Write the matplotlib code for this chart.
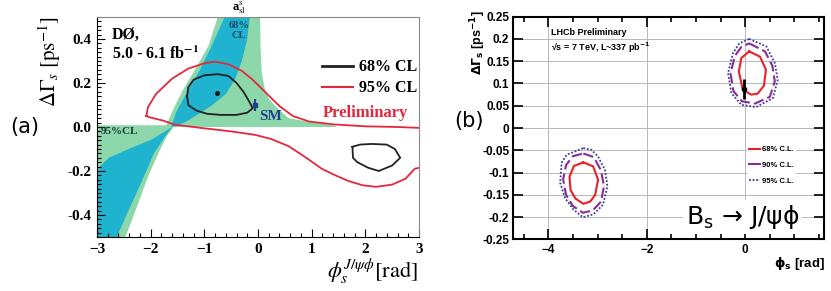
import matplotlib
matplotlib.use('Agg')
import matplotlib.pyplot as plt
from matplotlib.ticker import MultipleLocator, FixedLocator
from matplotlib.lines import Line2D

plt.rcParams['mathtext.fontset'] = 'stix'

# ---------------- panel (a) : D0 ----------------
# a_sl band, 95% (green) and 68% (cyan)
green_up_x = [-1.72, -1.6, -1.42, -1.17, -0.92, -0.75, 0.04, 0.05, 0.07, 0.12, 0.2, 0.35, 0.57, 0.8, 1.2, 1.45, 1.45, -1.72]
green_up_y = [0.0, 0.069, 0.159, 0.262, 0.37, 0.5, 0.5, 0.35, 0.25, 0.18, 0.13, 0.088, 0.04, 0.03, 0.015, 0.006, 0.0, 0.0]
green_lo_x = [-3.0, -1.6, -1.57, -1.7, -1.85, -2.04, -2.22, -2.36, -2.47, -3.0]
green_lo_y = [0.008, 0.008, 0.0, -0.042, -0.117, -0.22, -0.34, -0.43, -0.5, -0.5]
cyan_up_x = [-1.62, -1.52, -1.32, -1.08, -0.86, -0.62, -0.15, -0.2, -0.3, -0.42, -0.6, -0.85, -1.1, -1.3, -1.5]
cyan_up_y = [0.0, 0.07, 0.16, 0.26, 0.37, 0.5, 0.5, 0.4, 0.3, 0.22, 0.15, 0.1, 0.06, 0.03, 0.005]
cyan_lo_x = [-1.6, -1.75, -1.94, -2.1, -2.3, -2.45, -2.63, -3.0, -3.0, -2.95, -2.78, -2.41, -1.98]
cyan_lo_y = [0.0, -0.05, -0.12, -0.21, -0.32, -0.4, -0.5, -0.5, -0.22, -0.18, -0.14, -0.1, -0.057]

# 95% CL contour (red)
red95_x = [-2.08, -2.05, -1.9, -1.6, -1.3, -1.0, -0.8, -0.55, -0.3, -0.1, 0.15, 0.4, 0.65, 0.95, 1.4, 2.0, 2.6, 3.1,
           3.1, 2.92, 2.75, 2.5, 2.2, 1.95, 1.68, 1.4, 1.19, 0.9, 0.57, 0.25, -0.05, -0.5, -1.0, -1.54, -1.78, -2.0, -2.08]
red95_y = [0.05, 0.09, 0.15, 0.22, 0.265, 0.29, 0.297, 0.285, 0.255, 0.215, 0.155, 0.095, 0.05, 0.025, 0.012, 0.003, 0.0, -0.005,
           -0.18, -0.19, -0.235, -0.262, -0.272, -0.265, -0.245, -0.215, -0.19, -0.14, -0.087, -0.055, -0.036, -0.02, -0.006, 0.01, 0.03, 0.043, 0.05]
# 68% CL contours (black)
blk68a_x = [-1.32, -1.3, -1.2, -1.0, -0.75, -0.55, -0.4, -0.27, -0.15, -0.1, -0.2, -0.4, -0.7, -0.95, -1.15, -1.3, -1.32]
blk68a_y = [0.14, 0.18, 0.215, 0.235, 0.24, 0.232, 0.2, 0.16, 0.11, 0.085, 0.065, 0.055, 0.055, 0.06, 0.075, 0.1, 0.14]
blk68b_x = [1.76, 1.9, 2.12, 2.4, 2.55, 2.65, 2.5, 2.25, 2.05, 1.85, 1.77, 1.76]
blk68b_y = [-0.09, -0.08, -0.077, -0.08, -0.1, -0.14, -0.175, -0.2, -0.185, -0.16, -0.14, -0.09]
best_a = (-0.77, 0.153)
sm_a = (-0.05, 0.1, 0.027)

# ---------------- panel (b) : LHCb ----------------
up68_x = [0.08, 0.3, 0.42, 0.38, 0.25, 0.12, -0.05, -0.13, -0.08, 0.08]
up68_y = [0.172, 0.16, 0.131, 0.095, 0.077, 0.075, 0.086, 0.127, 0.157, 0.172]
up90_x = [0.08, 0.4, 0.55, 0.6, 0.5, 0.2, -0.07, -0.24, -0.3, -0.21, -0.08, 0.08]
up90_y = [0.19, 0.172, 0.14, 0.105, 0.07, 0.055, 0.06, 0.083, 0.123, 0.162, 0.182, 0.19]
up95_x = [0.08, 0.43, 0.6, 0.66, 0.56, 0.22, -0.08, -0.28, -0.35, -0.25, -0.12, 0.08]
up95_y = [0.2, 0.183, 0.146, 0.108, 0.067, 0.047, 0.052, 0.078, 0.123, 0.168, 0.19, 0.2]
lo68_x = [-3.29, -3.09, -2.99, -3.05, -3.15, -3.29, -3.45, -3.55, -3.57, -3.48, -3.29]
lo68_y = [-0.077, -0.086, -0.116, -0.15, -0.165, -0.17, -0.158, -0.139, -0.109, -0.085, -0.077]
lo90_x = [-3.29, -3.08, -2.93, -2.87, -2.93, -3.1, -3.3, -3.5, -3.64, -3.7, -3.64, -3.5, -3.29]
lo90_y = [-0.057, -0.065, -0.095, -0.131, -0.165, -0.185, -0.19, -0.175, -0.15, -0.115, -0.083, -0.063, -0.057]
lo95_x = [-3.29, -3.12, -2.99, -2.85, -2.8, -2.89, -3.09, -3.3, -3.49, -3.66, -3.76, -3.73, -3.63, -3.29]
lo95_y = [-0.045, -0.049, -0.064, -0.094, -0.131, -0.172, -0.194, -0.2, -0.183, -0.157, -0.123, -0.078, -0.06, -0.045]
sm_b = (-0.02, 0.088, 0.022)

GREEN = '#8dd8aa'
CYAN = '#1fb3cf'
RED = '#e3283c'
NAVY = '#1f3f8f'
SERIF = 'Liberation Serif'
SANS = 'Liberation Sans'

fig = plt.figure(figsize=(8.31, 2.91), dpi=100)
axa = fig.add_axes([0.1167, 0.1856, 0.3875, 0.756])
axb = fig.add_axes([0.6177, 0.177, 0.3739, 0.766])

# ---- draw panel (a)
axa.fill(green_up_x, green_up_y, color=GREEN, lw=0)
axa.fill(green_lo_x, green_lo_y, color=GREEN, lw=0)
axa.fill(cyan_up_x, cyan_up_y, color=CYAN, lw=0)
axa.fill(cyan_lo_x, cyan_lo_y, color=CYAN, lw=0)
axa.plot(red95_x, red95_y, color=RED, lw=1.3)
axa.plot(blk68a_x, blk68a_y, color='#222222', lw=1.3)
axa.plot(blk68b_x, blk68b_y, color='#222222', lw=1.3)
axa.plot([best_a[0]], [best_a[1]], 'o', color='#111111', ms=2.5)
axa.errorbar([sm_a[0]], [sm_a[1]], yerr=[sm_a[2]], fmt='none', ecolor=NAVY, elinewidth=1.6)
axa.plot([sm_a[0]], [sm_a[1]], 's', color=NAVY, ms=2.5)

axa.set_xlim(-3, 3)
axa.set_ylim(-0.5, 0.5)
axa.xaxis.set_major_locator(MultipleLocator(1))
axa.xaxis.set_minor_locator(MultipleLocator(0.2))
axa.yaxis.set_major_locator(FixedLocator([-0.4, -0.2, 0.0, 0.2, 0.4]))
axa.yaxis.set_minor_locator(MultipleLocator(0.02))
axa.set_yticklabels(['-0.4', '-0.2', '0.0', '0.2', '0.4'])
axa.tick_params(which='both', direction='in', top=False, right=False, width=0.8)
axa.tick_params(which='major', length=6, pad=4)
axa.tick_params(which='minor', length=3)
for lab in axa.get_xticklabels() + axa.get_yticklabels():
    lab.set_fontfamily(SERIF)
    lab.set_fontweight('bold')
    lab.set_fontsize(11)
for s in ['top', 'right']:
    axa.spines[s].set_color('#888888')
    axa.spines[s].set_linewidth(0.8)

bold_serif = dict(family=SERIF, weight='bold')
axa.text(-2.72, 0.42, 'DØ,', fontsize=11.5, va='center', **bold_serif)
axa.text(-2.72, 0.33, '5.0 - 6.1 fb$^{\\mathbf{-1}}$', fontsize=11.5, va='center', **bold_serif)
axa.text(-0.36, 0.505, 'a$^{\\rm s}_{\\rm sl}$', fontsize=9, ha='center', va='bottom', **bold_serif)
axa.text(-0.36, 0.46, '68%', fontsize=7.5, ha='center', va='center', color='#1d4a66', **bold_serif)
axa.text(-0.36, 0.415, 'CL', fontsize=7.5, ha='center', va='center', color='#1d4a66', **bold_serif)
axa.text(-2.93, -0.02, '95%CL', fontsize=8, va='center', color='#1d3a3a', **bold_serif)
axa.text(0.03, 0.048, 'SM', fontsize=11, va='center', color=NAVY, **bold_serif)
axa.text(2.0, 0.063, 'Preliminary', fontsize=12, ha='center', va='center', color=RED, **bold_serif)

hdl = [Line2D([], [], color='#222222', lw=2), Line2D([], [], color=RED, lw=1.5)]
axa.legend(hdl, ['68% CL', '95% CL'], loc='center left', bbox_to_anchor=(0.70, 0.724),
           frameon=False, borderpad=0, borderaxespad=0, handlelength=1.9, handletextpad=0.4,
           labelspacing=0.3, prop=dict(family=SERIF, weight='bold', size=11.5))

fig.text(50 / 831, 1 - 17 / 291, r'$\Delta\Gamma_s\ [\mathrm{ps}^{-1}]$', rotation=90,
         ha='center', va='top', fontsize=15)
fig.text(418 / 831, 1 - 257 / 291, r'$\phi_s^{J/\psi\phi}[\mathrm{rad}]$', ha='right', va='top',
         fontsize=16)

# ---- draw panel (b)
axb.plot(up68_x, up68_y, color='#e8202a', lw=1.5)
axb.plot(up90_x, up90_y, color='#8a2b9c', lw=1.5, dashes=(5, 2))
axb.plot(up95_x, up95_y, color='#3b3b9e', lw=1.3, ls=(0, (1, 1)))
axb.plot(lo68_x, lo68_y, color='#e8202a', lw=1.5)
axb.plot(lo90_x, lo90_y, color='#8a2b9c', lw=1.5, dashes=(5, 2))
axb.plot(lo95_x, lo95_y, color='#3b3b9e', lw=1.3, ls=(0, (1, 1)))
axb.errorbar([sm_b[0]], [sm_b[1]], yerr=[sm_b[2]], fmt='none', ecolor='black', elinewidth=2)
axb.plot([sm_b[0]], [sm_b[1]], 'o', color='black', ms=3)

axb.set_xlim(-4.712, 1.6)
axb.set_ylim(-0.25, 0.25)
axb.xaxis.set_major_locator(MultipleLocator(2))
axb.xaxis.set_minor_locator(MultipleLocator(0.5))
yt = [-0.25, -0.2, -0.15, -0.1, -0.05, 0, 0.05, 0.1, 0.15, 0.2, 0.25]
axb.set_yticks(yt)
axb.set_yticklabels(['-0.25', '-0.2', '-0.15', '-0.1', '-0.05', '0', '0.05', '0.1', '0.15', '0.2', '0.25'])
axb.grid(True, which='major', color='#b8b8b8', lw=0.7)
axb.set_axisbelow(True)
axb.tick_params(which='both', direction='in', top=True, right=True, width=1.2)
axb.tick_params(which='major', length=7, pad=3)
axb.tick_params(which='minor', length=3.5)
for lab in axb.get_xticklabels() + axb.get_yticklabels():
    lab.set_fontfamily(SANS)
    lab.set_fontweight('bold')
    lab.set_fontsize(8.5)
for s in axb.spines.values():
    s.set_linewidth(1.5)

bold_sans = dict(family=SANS, weight='bold')
axb.text(-3.95, 0.214, 'LHCb Preliminary', fontsize=6.5, va='center', **bold_sans)
axb.text(-3.95, 0.18, '√s = 7 TeV, L~337 pb$^{\\mathbf{-1}}$', fontsize=6.5, va='center',
         math_fontfamily='dejavusans', **bold_sans)
axb.text(-0.05, -0.2, r'B$_\mathregular{s}$ → J/ψϕ', fontsize=18, ha='center', va='center',
         family='DejaVu Sans', math_fontfamily='dejavusans',
         bbox=dict(facecolor='white', edgecolor='none', pad=2), zorder=5)

hdl_b = [Line2D([], [], color='#e8202a', lw=1.5),
         Line2D([], [], color='#8a2b9c', lw=1.5),
         Line2D([], [], color='#3b3b9e', lw=1.3, ls=(0, (1, 1)))]
axb.legend(hdl_b, ['68% C.L.', '90% C.L.', '95% C.L.'], loc='upper left', bbox_to_anchor=(0.752, 0.43),
           frameon=True, facecolor='white', edgecolor='none', framealpha=1, fancybox=False,
           borderpad=0.3, borderaxespad=0, handlelength=1.4, handletextpad=0.3, labelspacing=1.1,
           prop=dict(family=SANS, weight='bold', size=5.5))

fig.text(478 / 831, 1 - 10 / 291, r'$\mathbf{\Delta\Gamma_s}$ [ps$^{\mathbf{-1}}$]', rotation=90,
         ha='center', va='top', fontsize=9, math_fontfamily='dejavusans', **bold_sans)
fig.text(825 / 831, 1 - 264 / 291, r'$\mathbf{\phi_s}$ [rad]', ha='right', va='center', fontsize=9.5,
         math_fontfamily='dejavusans', **bold_sans)

fig.text(25 / 831, 1 - 127 / 291, '(a)', ha='center', va='center', fontsize=15, family='DejaVu Sans')
fig.text(469 / 831, 1 - 121 / 291, '(b)', ha='center', va='center', fontsize=15, family='DejaVu Sans')

fig.savefig('out.png', dpi=100)
